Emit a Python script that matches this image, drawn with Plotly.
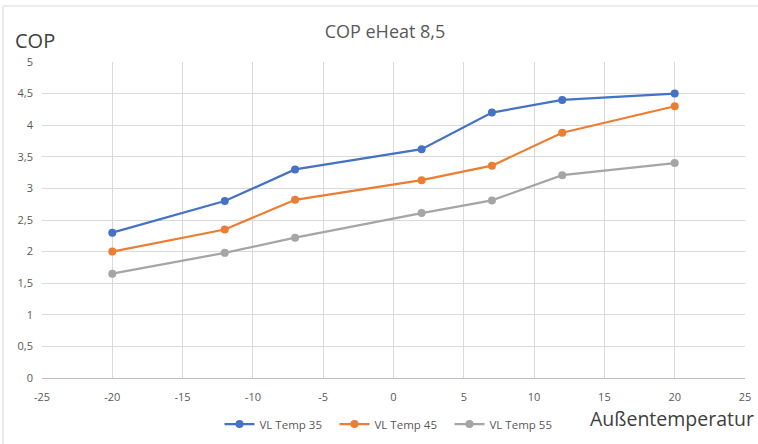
import plotly.graph_objects as go

temps = [-20, -12, -7, 2, 7, 12, 20]
vl35 = [2.30, 2.80, 3.30, 3.62, 4.20, 4.40, 4.50]
vl45 = [2.00, 2.35, 2.82, 3.13, 3.36, 3.88, 4.30]
vl55 = [1.65, 1.98, 2.22, 2.61, 2.81, 3.21, 3.40]
series_names = ["VL Temp 35", "VL Temp 45", "VL Temp 55"]
colors = ["#4472C4", "#ED7D31", "#A5A5A5"]
x_tickvals = [-25, -20, -15, -10, -5, 0, 5, 10, 15, 20, 25]
x_ticktext = ["-25", "-20", "-15", "-10", "-5", "0", "5", "10", "15", "20", "25"]

FONT = "Open Sans"
fig = go.Figure()
for name, vals, c in zip(series_names, [vl35, vl45, vl55], colors):
    fig.add_trace(go.Scatter(
        x=temps, y=vals, name=name, mode="lines+markers",
        line=dict(color=c, width=2.25),
        marker=dict(color=c, size=8),
    ))

W, H = 758, 444
L, R, T, B = 42, 13, 62, 66
ph = H - T - B
pw = W - L - R

fig.update_layout(
    width=W, height=H,
    margin=dict(l=L, r=R, t=T, b=B, autoexpand=False),
    paper_bgcolor="white", plot_bgcolor="white",
    separators=", ",
    font=dict(family=FONT, color="#595959", size=11),
    title=dict(text="COP eHeat 8,5", x=385 / W, xanchor="center", y=1 - 32 / H,
               yanchor="middle", font=dict(size=18, color="#595959", family=FONT)),
    showlegend=True,
    legend=dict(orientation="h", xref="paper", x=(392 - L) / pw, xanchor="center",
                yref="container", y=1 - 424 / H, yanchor="middle",
                font=dict(size=11.5, color="#595959", family=FONT),
                itemwidth=30, tracegroupgap=0,
                entrywidth=70, entrywidthmode="pixels"),
    xaxis=dict(range=[-25, 25], tickmode="array", tickvals=x_tickvals,
               ticktext=x_ticktext, showgrid=True, automargin=False,
               gridcolor="#d9d9d9", gridwidth=1, zeroline=False,
               showline=True, linecolor="#bfbfbf", linewidth=1,
               ticks="", ticklabelstandoff=9, fixedrange=True),
    yaxis=dict(range=[0, 5], dtick=0.5, tick0=0, showgrid=True, automargin=False,
               gridcolor="#d9d9d9", gridwidth=1, zeroline=False,
               showline=False, ticks="", ticklabelstandoff=8, fixedrange=True),
    annotations=[
        dict(text="COP", xref="paper", yref="paper",
             x=(13 - L) / pw, xanchor="left",
             y=((H - B) - 40) / ph, yanchor="middle", showarrow=False,
             font=dict(size=20, color="#404040", family=FONT)),
        dict(text="Außentemperatur", xref="paper", yref="paper",
             x=(756 - L) / pw, xanchor="right",
             y=-(418 - (H - B)) / ph, yanchor="middle", showarrow=False,
             font=dict(size=19.5, color="#404040", family=FONT)),
    ],
    shapes=[
        dict(type="rect", xref="paper", yref="paper", layer="below",
             x0=(3 - L) / pw, x1=1.2, y0=-0.6, y1=((H - B) - 6) / ph,
             line=dict(color="#d9d9d9", width=1), fillcolor="rgba(0,0,0,0)"),
    ],
)

fig.write_html("out.html", config={"displayModeBar": False},
               post_script="document.body.style.margin='0';")
